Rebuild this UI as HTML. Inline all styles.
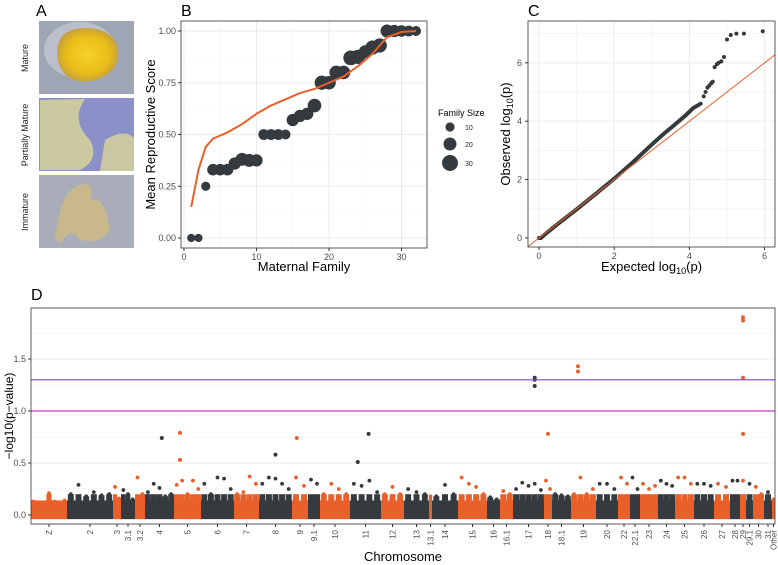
<!DOCTYPE html>
<html><head><meta charset="utf-8"><style>
html,body{margin:0;padding:0;background:#fff;}
svg{display:block;font-family:"Liberation Sans",sans-serif;}
.tk{font-size:9px;fill:#4d4d4d;}
.ttl{font-size:13px;fill:#000;}
.lt{font-size:16px;fill:#000;}
</style></head><body>
<svg id="fig" width="778" height="565" viewBox="0 0 778 565">
<defs>
<radialGradient id="gm" cx="0.5" cy="0.5" r="0.5"><stop offset="0" stop-color="#f6d22a"/><stop offset="0.7" stop-color="#e9bd18"/><stop offset="1" stop-color="#c9a43a"/></radialGradient>
</defs>
<g>
<text class="lt" x="36" y="16">A</text>
<g>
<rect x="39" y="21" width="95" height="73" fill="#9ea6b6"/>
<ellipse cx="80" cy="50" rx="36" ry="28" fill="#c7cbd4" opacity="0.7"/>
<path d="M58 45 Q62 27 88 28 Q115 30 118 50 Q120 72 95 80 Q70 85 62 70 Q55 60 58 45 Z" fill="url(#gm)"/>
</g>
<g>
<rect x="39" y="98" width="95" height="73" fill="#8b90c9"/>
<path d="M40 100 L85 99 Q70 120 90 140 Q100 160 80 170 L40 170 Z" fill="#d6d398" opacity="0.85"/>
<path d="M105 140 Q125 128 134 138 L134 171 L100 171 Z" fill="#d9d49a" opacity="0.8"/>
</g>
<g>
<rect x="39" y="175" width="95" height="73" fill="#a9adba"/>
<path d="M55 240 Q60 190 80 185 Q95 180 90 200 Q105 195 110 230 Q100 245 80 240 Q70 225 62 242 Z" fill="#cbb987" opacity="0.9"/>
</g>
<text class="tk" transform="translate(28,58) rotate(-90)" text-anchor="middle" style="fill:#222">Mature</text>
<text class="tk" transform="translate(28,135) rotate(-90)" text-anchor="middle" style="fill:#222">Partially Mature</text>
<text class="tk" transform="translate(28,212) rotate(-90)" text-anchor="middle" style="fill:#222">Immature</text>
</g>
<g id="pb"><text class="lt" x="181" y="16">B</text></g>
<g id="pc"><text class="lt" x="528" y="16">C</text></g>
<g id="pd"><text class="lt" x="31" y="300">D</text></g>
</svg>
<script>
const bFamily = [1,2,3,4,5,6,7,8,9,10,11,12,13,14,15,16,17,18,19,20,21,22,23,24,25,26,27,28,29,30,31,32];
const bScore = [0,0,0.25,0.33,0.33,0.33,0.36,0.38,0.375,0.375,0.5,0.5,0.5,0.5,0.57,0.59,0.6,0.64,0.75,0.75,0.8,0.8,0.87,0.875,0.9,0.92,0.93,1,1,1,1,1];
const bSize = [8,8,10,16,16,16,18,20,20,18,14,14,14,12,18,18,18,22,24,22,22,22,26,24,20,24,24,20,18,16,14,12];
const bSmoothX = [1,2,3,4,6,8,10,12,14,16,18,20,22,24,26,27,28,30,32];
const bSmoothY = [0.15,0.33,0.44,0.48,0.51,0.55,0.6,0.64,0.67,0.7,0.72,0.75,0.78,0.83,0.89,0.93,0.97,0.995,1.0];
const bYTicks = [0,0.25,0.5,0.75,1.0];
const bYTickLabels = ["0.00","0.25","0.50","0.75","1.00"];
const bXTicks = [0,10,20,30];
const bLegendSizes = [10,20,30];
const cExpected = [0,0.05,0.2,0.5,1,1.5,2,2.5,3,3.3,3.6,3.9,4.1,4.3];
const cObserved = [0,0,0.17,0.48,0.98,1.5,2.03,2.6,3.2,3.55,3.87,4.2,4.45,4.6];
const cTailExp = [4.38,4.43,4.48,4.53,4.58,4.62,4.67,4.73,4.78,4.85,4.92,5.0,5.1,5.25,5.45,5.95];
const cTailObs = [4.85,5.0,5.15,5.22,5.3,5.35,5.85,5.95,6.0,6.05,6.2,6.8,6.95,7.0,7.0,7.08];
const cTicks = [0,2,4,6];
const chroms = ["Z","2","3","3.1","3.2","4","5","6","7","8","9","9.1","10","11","12","13","13.1","14","15","16","16.1","17","18","18.1","19","20","22","22.1","23","24","25","26","27","28","29","29.1","30","31","Other"];
const chromLen = [36,46,8,14,10,29,27,33,25,33,16,12,30,31,23,25,3,26,29,13,13,31,8,19,25,22,12,10,18,17,19,20,16,10,6,7,11,8,3];
const chromTops = [
[0.13,0.1,0.12,0.21,0.13,0.12,0.14],[0.2,0.29,0.18,0.22,0.19,0.2],[0.27,0.16],[0.24,0.2,0.15],[0.36,0.2],
[0.22,0.3,0.26,0.18,0.2],[0.29,0.33,0.2,0.33,0.25],[0.3,0.2,0.36,0.35,0.25],[0.2,0.22,0.37,0.3],[0.3,0.36,0.35,0.3,0.25],
[0.36,0.28],[0.34,0.3],[0.2,0.3,0.25,0.2],[0.3,0.28,0.33,0.22],[0.2,0.27,0.2],[0.25,0.22,0.2],[0.18],[0.18,0.29,0.2],
[0.36,0.3,0.27,0.2],[0.17,0.15],[0.23,0.2],[0.25,0.31,0.28,0.3,0.24],[0.33,0.25],[0.2,0.19,0.18],[0.2,0.36,0.2,0.25],
[0.3,0.3,0.25],[0.36,0.3],[0.36,0.25],[0.3,0.25,0.28],[0.33,0.3,0.28],[0.36,0.36,0.3],[0.3,0.3,0.28],[0.3,0.27],
[0.33,0.33],[0.33],[0.3],[0.27,0.2],[0.22],[0.15]];
const outChrom = [5,6,6,9,10,13,13,21,21,21,22,24,24,34,34,34,34];
const outFrac = [0.58,0.22,0.22,0.5,0.3,0.6,0.25,0.7,0.7,0.7,0.5,0.28,0.28,0.5,0.5,0.5,0.5];
const outVal = [0.74,0.79,0.53,0.58,0.74,0.78,0.51,1.32,1.3,1.24,0.78,1.43,1.38,1.9,1.87,1.32,0.78];
const dYTicks = [0,0.5,1.0,1.5];
const dYTickLabels = ["0.0","0.5","1.0","1.5"];
const dThresholds = [1.0,1.3];
const dThreshColors = ["#cc33cc","#8a3dd6"];

const NS="http://www.w3.org/2000/svg";
function mk(tag,attrs,parent){const e=document.createElementNS(NS,tag);for(const k in attrs)e.setAttribute(k,attrs[k]);parent.appendChild(e);return e;}
const ORANGE="#e9602b", DARK="#353a3e", GRID="#ebebeb";

(function(){
const g=document.getElementById('pb');
const L=181,R=427,T=21,B=248;
const xs=v=>184+v*7.25, ys=v=>238-v*207;
[0.125,0.375,0.625,0.875].forEach(v=>mk('line',{x1:L,x2:R,y1:ys(v),y2:ys(v),stroke:'#f4f4f4','stroke-width':0.6},g));
[5,15,25].forEach(v=>mk('line',{x1:xs(v),x2:xs(v),y1:T,y2:B,stroke:'#f4f4f4','stroke-width':0.6},g));
bYTicks.forEach((v,i)=>{
 const gl=mk('line',{x1:L,x2:R,y1:ys(v),y2:ys(v),stroke:GRID,'stroke-width':1},g);
 
 
 mk('line',{x1:L-3,x2:L,y1:ys(v),y2:ys(v),stroke:'#333'},g);
 const t=mk('text',{x:L-5,y:ys(v)+3,'text-anchor':'end',class:'tk'},g);t.textContent=bYTickLabels[i];
 
 
});
bXTicks.forEach(v=>{
 mk('line',{x1:xs(v),x2:xs(v),y1:T,y2:B,stroke:GRID,'stroke-width':1},g);
 mk('line',{x1:xs(v),x2:xs(v),y1:B,y2:B+3,stroke:'#333'},g);
 const t=mk('text',{x:xs(v),y:B+12,'text-anchor':'middle',class:'tk'},g);t.textContent=v;
 
 
});
const rs=s=>Math.sqrt(s)*1.45;
bFamily.forEach((f,i)=>{
 const c=mk('circle',{cx:xs(f),cy:ys(bScore[i]),r:rs(bSize[i]),fill:DARK},g);
 
 
});
const p=mk('polyline',{points:bSmoothX.map((x,i)=>xs(x)+','+ys(bSmoothY[i])).join(' '),fill:'none',stroke:ORANGE,'stroke-width':2,'stroke-linejoin':'round'},g);


mk('rect',{x:L,y:T,width:R-L,height:B-T,fill:'none',stroke:'#333','stroke-width':0.8},g);
let t=mk('text',{x:(L+R)/2,y:271,'text-anchor':'middle',class:'ttl'},g);t.textContent='Maternal Family';


t=mk('text',{transform:'translate(155,'+(T+B)/2+') rotate(-90)','text-anchor':'middle',class:'ttl'},g);t.textContent='Mean Reproductive Score';


t=mk('text',{x:438,y:116,class:'tk',style:'fill:#000'},g);t.textContent='Family Size';


bLegendSizes.forEach((s,i)=>{
 const yy=[127,144,163][i];
 const c=mk('circle',{cx:450,cy:yy,r:rs(s)*1.0,fill:DARK},g);
 
 
 const tt=mk('text',{x:465,y:yy+3,class:'tk',style:'font-size:7px;fill:#222'},g);tt.textContent=s;
 
 
});
})();

(function(){
const g=document.getElementById('pc');
const L=528,R=775,T=21,B=247;
const xs=v=>539+v*37.6, ys=v=>238-v*29.2;
[1,3,5].forEach(v=>mk('line',{x1:xs(v),x2:xs(v),y1:T,y2:B,stroke:'#f4f4f4'},g));
[1,3,5,7].forEach(v=>mk('line',{x1:L,x2:R,y1:ys(v),y2:ys(v),stroke:'#f4f4f4'},g));
cTicks.forEach(v=>{
 mk('line',{x1:xs(v),x2:xs(v),y1:T,y2:B,stroke:GRID},g);
 mk('line',{x1:L,x2:R,y1:ys(v),y2:ys(v),stroke:GRID},g);
 mk('line',{x1:xs(v),x2:xs(v),y1:B,y2:B+3,stroke:'#333'},g);
 mk('line',{x1:L-3,x2:L,y1:ys(v),y2:ys(v),stroke:'#333'},g);
 let t=mk('text',{x:xs(v),y:B+12,'text-anchor':'middle',class:'tk'},g);t.textContent=v;
 
 
 t=mk('text',{x:L-6,y:ys(v)+3,'text-anchor':'end',class:'tk'},g);t.textContent=v;
 
 
});
const q=mk('polyline',{points:cExpected.map((x,i)=>xs(x)+','+ys(cObserved[i])).join(' '),fill:'none',stroke:DARK,'stroke-width':4,'stroke-linecap':'round'},g);


cTailExp.forEach((x,i)=>{
 const c=mk('circle',{cx:xs(x),cy:ys(cTailObs[i]),r:2,fill:DARK},g);
 
 
});
const ln=mk('line',{x1:xs(-0.3),y1:ys(-0.3),x2:R,y2:ys((R-539)/37.6),stroke:ORANGE,'stroke-width':1},g);


mk('rect',{x:L,y:T,width:R-L,height:B-T,fill:'none',stroke:'#333','stroke-width':0.8},g);
let t=mk('text',{x:(L+R)/2,y:271,'text-anchor':'middle',class:'ttl'},g);
t.innerHTML='Expected log<tspan font-size="9" dy="3">10</tspan><tspan dy="-3">(p)</tspan>';


t=mk('text',{transform:'translate(510,'+(T+B)/2+') rotate(-90)','text-anchor':'middle',class:'ttl'},g);
t.innerHTML='Observed log<tspan font-size="9" dy="3">10</tspan><tspan dy="-3">(p)</tspan>';


})();

(function(){
const g=document.getElementById('pd');
const L=31,R=775,T=308,B=524;
const ys=v=>515-v*104;
let cum=0; const starts=[];
chromLen.forEach(l=>{starts.push(cum);cum+=l;});
const xs=v=>L+v*(R-L)/cum;
[0.25,0.75,1.25,1.75].forEach(v=>mk('line',{x1:L,x2:R,y1:ys(v),y2:ys(v),stroke:'#f4f4f4'},g));
dYTicks.forEach((v,i)=>{
 mk('line',{x1:L,x2:R,y1:ys(v),y2:ys(v),stroke:GRID},g);
 mk('line',{x1:L-3,x2:L,y1:ys(v),y2:ys(v),stroke:'#333'},g);
 const t=mk('text',{x:L-5,y:ys(v)+3,'text-anchor':'end',class:'tk'},g);t.textContent=dYTickLabels[i];
 
 
});
chroms.forEach((c,i)=>{
 const col=i%2===0?ORANGE:DARK;
 const x0=xs(starts[i]), x1=xs(starts[i]+chromLen[i]);
 const r=mk('rect',{x:x0,y:ys(0.14),width:x1-x0,height:ys(-0.04)-ys(0.14),fill:col},g);
 
 
 const tops=chromTops[i], n=tops.length, w=(x1-x0)/n;
 tops.forEach((v,j)=>{
  const cx=x0+w*(j+0.5);
  mk('rect',{x:cx-Math.min(w/2,3),y:ys(Math.min(v,0.2)),width:Math.min(w,6),height:ys(0.12)-ys(Math.min(v,0.2)),fill:col},g);
  const d=mk('circle',{cx:cx,cy:ys(v),r:1.9,fill:col},g);
  
  
 });
 const cx=(x0+x1)/2;
 mk('line',{x1:cx,x2:cx,y1:B,y2:B+3,stroke:'#333'},g);
 const t=mk('text',{transform:'translate('+(cx+3)+','+(B+6)+') rotate(-90)','text-anchor':'end',class:'tk',style:'font-size:8px'},g);
 t.textContent=c;
 
 
});
outChrom.forEach((ci,i)=>{
 const cx=xs(starts[ci]+chromLen[ci]*outFrac[i]);
 const d=mk('circle',{cx:cx,cy:ys(outVal[i]),r:2,fill:ci%2===0?ORANGE:DARK},g);
 
 
});
dThresholds.forEach((v,i)=>{
 const l=mk('line',{x1:L,x2:R,y1:ys(v),y2:ys(v),stroke:dThreshColors[i],'stroke-width':1.2},g);
 
 
});
mk('rect',{x:L,y:T,width:R-L,height:B-T,fill:'none',stroke:'#333','stroke-width':0.8},g);
let t=mk('text',{x:(L+R)/2,y:561,'text-anchor':'middle',class:'ttl'},g);t.textContent='Chromosome';


t=mk('text',{transform:'translate(13,'+(T+B)/2+') rotate(-90)','text-anchor':'middle',class:'ttl',style:'font-size:12px'},g);t.textContent='\u2212log10(p\u2212value)';


})();
</script>
</body></html>
